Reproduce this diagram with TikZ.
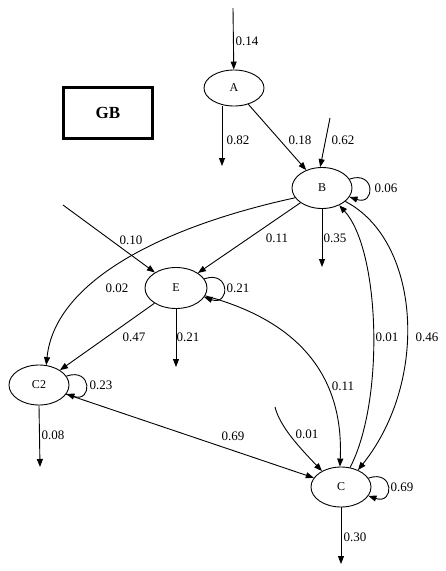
\documentclass[tikz,border=0pt]{standalone}
\usepackage{fontspec}
\setmainfont{Liberation Serif}
\usetikzlibrary{shapes.geometric,arrows.meta}
\begin{document}
\begin{tikzpicture}[x=1pt,y=-1pt,
  st/.style={draw,ellipse,line width=0.9pt,minimum width=60pt,minimum height=40pt,inner sep=0pt,font=\fontsize{12}{12}\selectfont},
  lbl/.style={inner sep=0pt,font=\fontsize{13}{13}\selectfont},
  edge/.style={line width=0.9pt,-{Triangle[length=8pt,width=6pt]}},
  ln/.style={line width=0.9pt}]
\path[use as bounding box] (0,0) rectangle (446,571);
% title box
\node[draw,line width=2.2pt,minimum width=89pt,minimum height=51pt,inner sep=0pt,font=\fontsize{17}{17}\selectfont\bfseries] (GB) at (108,113) {GB};
% states
\node[st,minimum height=36pt] (A) at (234,88) {A};
\node[st,minimum height=41pt] (B) at (322,188) {B};
\node[st,minimum width=62pt,minimum height=41pt] (E) at (176,288) {E};
\node[st] (C2) at (39,385) {C2};
\node[st] (C) at (341,487) {C};
% free ends
\coordinate (inA) at (233,8);
\coordinate (sinkA) at (222,166);
\coordinate (inB) at (330,118);
\coordinate (sinkB) at (322,267);
\coordinate (inE) at (63,205);
\coordinate (sinkE) at (176,367);
\coordinate (sinkC2) at (40,467);
\coordinate (inC) at (275,407);
\coordinate (sinkC) at (341,564);
% edges
\draw[edge] (inA) -- (A);
\draw[edge] (A.south -| sinkA) -- (sinkA);
\draw[edge] (A) -- (B);
\draw[edge] (inB) -- (B.95);
\draw[edge] (B.18) .. controls +(26,-9) and +(26,9) .. (B.-18);
\draw[edge] (B.south) -- (sinkB);
\draw[edge] (B) -- (E);
\draw[edge] (B.200) .. controls (165,226) and (55,280) .. (C2.70);
\draw[edge] (inE) -- (E);
\draw[edge] (E.18) .. controls +(26,-9) and +(26,9) .. (E.-18);
\draw[edge] (E.south) -- (sinkE);
\draw[edge] (E) -- (C2);
\draw[edge] (E.-15) .. controls (265,312) and (345,350) .. (C.93);
\draw[edge] (C.65) .. controls (385,400) and (380,250) .. (B.-45);
\draw[edge] (B.-30) .. controls (420,240) and (430,380) .. (C.45);
\draw[edge] (C2.18) .. controls +(26,-9) and +(26,9) .. (C2.-18);
\draw[edge] (C2.south) -- (sinkC2);
\draw[edge] (C2) -- (C);
\draw[edge] (inC) .. controls (280,427) and (300,448) .. (C.140);
\draw[edge] (C.18) .. controls +(26,-9) and +(26,9) .. (C.-18);
\draw[edge] (C.south) -- (sinkC);
% labels
\node[lbl] (l1) at (247,41) {0.14};
\node[lbl] (l2) at (238,140) {0.82};
\node[lbl] (l3) at (300,140) {0.18};
\node[lbl] (l4) at (343,140) {0.62};
\node[lbl] (l5) at (386,188) {0.06};
\node[lbl] (l6) at (335,238) {0.35};
\node[lbl] (l7) at (277,238) {0.11};
\node[lbl] (l8) at (131,240) {0.10};
\node[lbl] (l9) at (117,288) {0.02};
\node[lbl] (l10) at (238,288) {0.21};
\node[lbl] (l11) at (188,337) {0.21};
\node[lbl] (l12) at (134,337) {0.47};
\node[lbl] (l13) at (101,385) {0.23};
\node[lbl] (l14) at (53,435) {0.08};
\node[lbl] (l15) at (233,436) {0.69};
\node[lbl] (l16) at (343,386) {0.11};
\node[lbl] (l17) at (307,434) {0.01};
\node[lbl] (l18) at (387,337) {0.01};
\node[lbl] (l19) at (427,337) {0.46};
\node[lbl] (l20) at (402,487) {0.69};
\node[lbl] (l21) at (355,537) {0.30};
\end{tikzpicture}
\end{document}
